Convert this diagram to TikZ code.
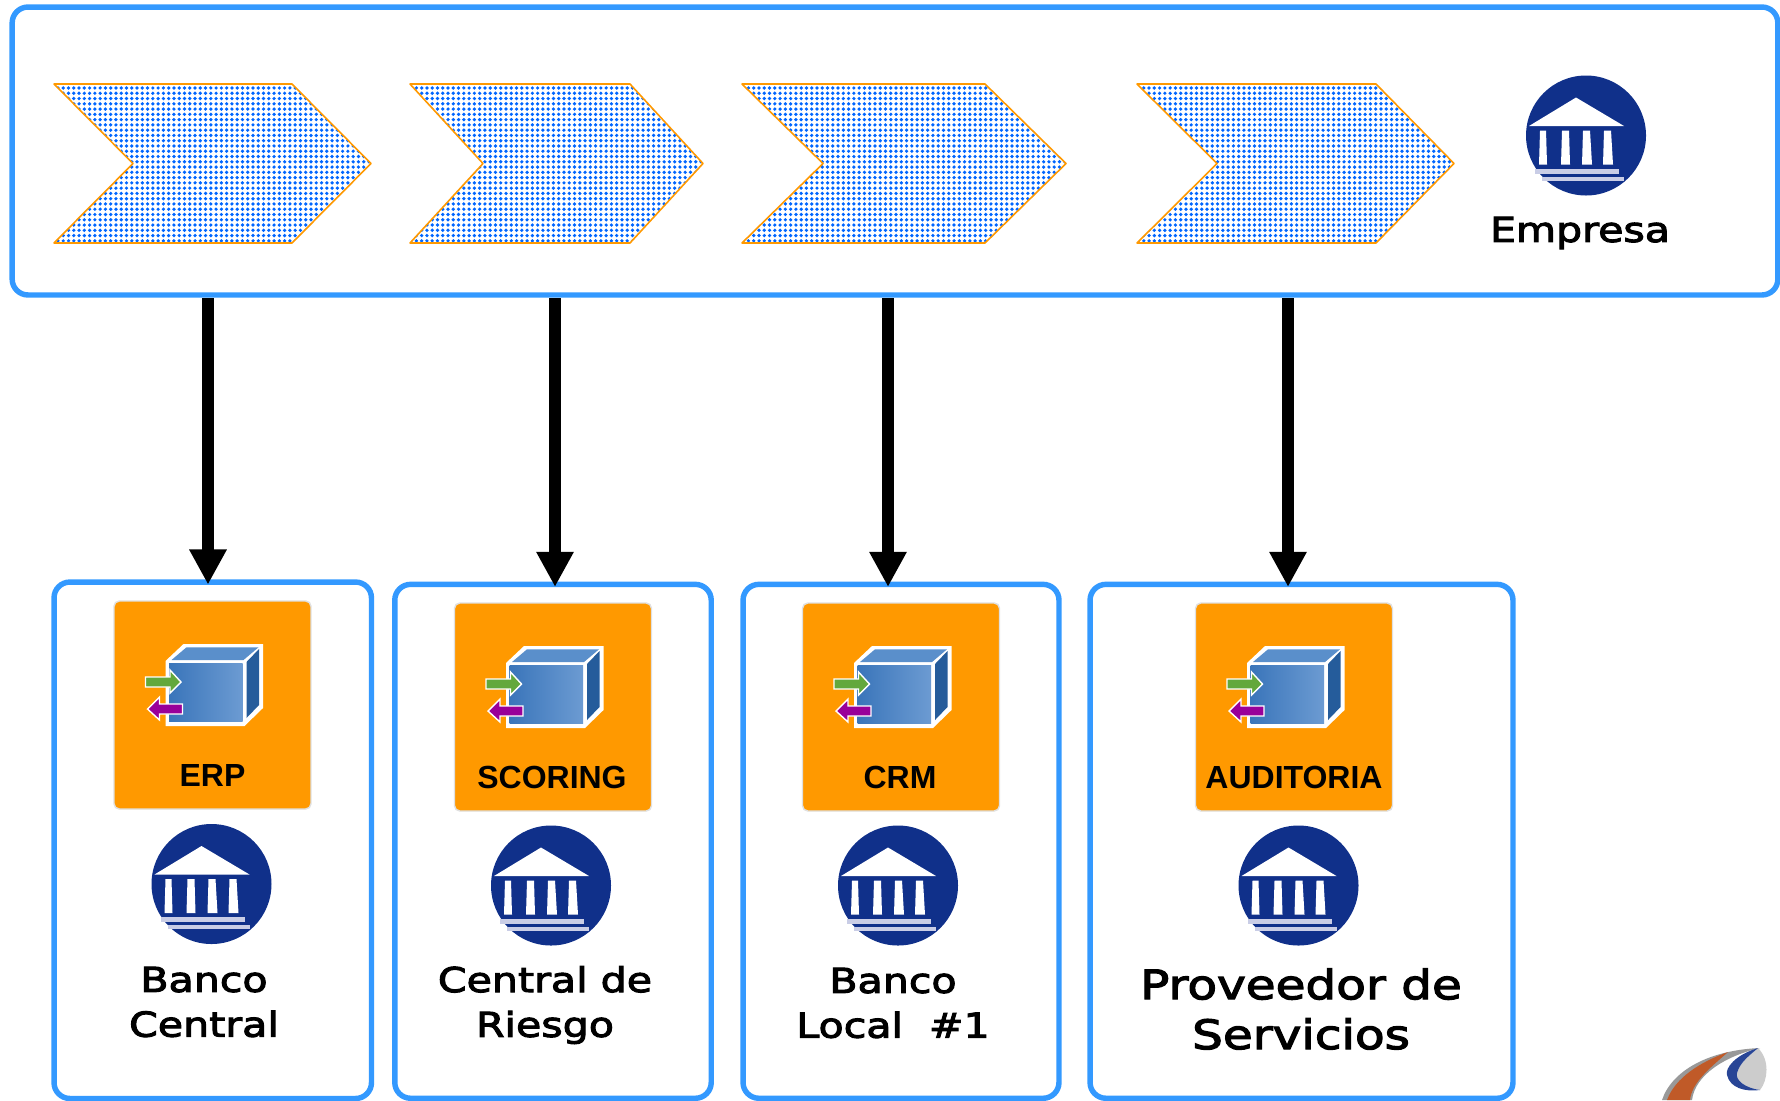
\documentclass[tikz,border=0pt]{standalone}
\usepackage{fontspec}
\setmainfont{Liberation Sans}
\newfontfamily\rotulofont[FakeStretch=1.2,FakeBold=3]{DejaVu Sans}
\usetikzlibrary{arrows.meta,patterns.meta}
\definecolor{azulcaja}{HTML}{3399FF}
\definecolor{azulpunto}{HTML}{0066FF}
\definecolor{naranja}{HTML}{FF9900}
\definecolor{azulbanco}{HTML}{10308A}
\definecolor{lavanda}{HTML}{C9CDE6}
\definecolor{verdecubo}{HTML}{63A83C}
\definecolor{moradocubo}{HTML}{990099}
\definecolor{cuboizq}{HTML}{3A75BA}
\definecolor{cuboder}{HTML}{6C9BD2}
\definecolor{cubotapa}{HTML}{5A8FCB}
\definecolor{cubolado}{HTML}{255C9B}
\definecolor{logonaranja}{HTML}{C05A28}
\tikzset{
  cajaempresa/.style={draw=azulcaja,line width=3.1pt,rounded corners=9pt,fill=white},
  cajabanco/.style={draw=azulcaja,line width=3.1pt,rounded corners=9pt,fill=white},
  baldosa/.style={draw=black!12,line width=0.8pt,fill=naranja,rounded corners=3pt,minimum width=3.94cm,minimum height=4.16cm},
  flechon/.style={draw=naranja,line width=0.9pt,line join=round,pattern={Dots[distance=3pt,radius=1.05pt]},pattern color=azulpunto},
  flecha/.style={line width=6.4pt,shorten >=-3pt,-{Triangle[width=20pt,length=20pt]}},
  nombre/.style={font=\rotulofont\fontsize{19.5}{25.5}\selectfont,align=center},
  nombreg/.style={font=\rotulofont\fontsize{23}{28.4}\selectfont,align=center},
  sistema/.style={font=\bfseries\fontsize{18.2}{20}\selectfont},
  banco/.pic={
    \fill[azulbanco] (0,0) circle (60);
    \fill[white] (-10,-38) -- (38,-9.5) -- (-57,-9.5) -- cycle;
    \fill[white] (-46,-5) -- (-40,-5) -- (-39,29) -- (-47,29) -- cycle;
    \fill[white] (-24,-5) -- (-17,-5) -- (-16,29) -- (-25,29) -- cycle;
    \fill[white] (-3,-5) -- (4,-5) -- (6,29) -- (-4,29) -- cycle;
    \fill[white] (18,-5) -- (25,-5) -- (27,29) -- (17,29) -- cycle;
    \fill[lavanda] (-51,33) rectangle (33,38);
    \fill[lavanda] (-44,41) rectangle (38,45);
  },
  cubo/.pic={
    \fill[white] (-47,-44) -- (-29,-61) -- (50.5,-61) -- (50.5,3) -- (32,21) -- (-47,21) -- cycle;
    \fill[cubotapa] (-41,-45) -- (-26,-57.7) -- (46,-57.7) -- (31,-45) -- cycle;
    \fill[cubolado] (34,-43) -- (46.5,-56) -- (46.5,0) -- (34,13) -- cycle;
    \shade[left color=cuboizq,right color=cuboder] (-43.5,-41.7) rectangle (30,16.7);
    \draw[white,line width=0.8pt,fill=verdecubo] (-67,-28) -- (-42.5,-28) -- (-42.5,-35) -- (-31.5,-23) -- (-42.5,-12) -- (-42.5,-18) -- (-67,-18) -- cycle;
    \draw[white,line width=0.8pt,fill=moradocubo] (-65,4) -- (-53,-8) -- (-53,-1) -- (-30,-1) -- (-30,9) -- (-53,9) -- (-53,15) -- cycle;
  },
}
\begin{document}
\begin{tikzpicture}[x=0.02cm,y=-0.02cm]
  \useasboundingbox (0,0) rectangle (1780,1100);
  \node[cajaempresa,minimum width=35.32cm,minimum height=5.76cm] (empresa) at (895,151) {};
  % flechones
  \draw[flechon] (54,84) -- (292,84) -- (371,163.5) -- (292,243) -- (54,243) -- (133,163.5) -- cycle;
  \draw[flechon] (410,84) -- (630,84) -- (703,163.5) -- (630,243) -- (410,243) -- (483,163.5) -- cycle;
  \draw[flechon] (742,84) -- (985,84) -- (1066,163.5) -- (985,243) -- (742,243) -- (823,163.5) -- cycle;
  \draw[flechon] (1137,84) -- (1376,84) -- (1454,163.5) -- (1376,243) -- (1137,243) -- (1217,163.5) -- cycle;
  \pic at (1586,135.5) {banco};
  \node[nombre] (nempresa) at (1580,233) {Empresa};
  % cajas de abajo
  \node[cajabanco,minimum width=6.35cm,minimum height=10.33cm] (caja1) at (212.75,840.25) {};
  \node[cajabanco,minimum width=6.33cm,minimum height=10.28cm] (caja2) at (553,841.3) {};
  \node[cajabanco,minimum width=6.32cm,minimum height=10.28cm] (caja3) at (901,841.3) {};
  \node[cajabanco,minimum width=8.46cm,minimum height=10.28cm] (caja4) at (1301.5,841.3) {};
  \node[baldosa] (erp) at (212.5,705) {};
  \node[baldosa] (scoring) at (553,707) {};
  \node[baldosa] (crm) at (901,707) {};
  \node[baldosa] (auditoria) at (1294,707) {};
  \pic at (212.5,705) {cubo};
  \pic at (553,707) {cubo};
  \pic at (901,707) {cubo};
  \pic at (1294,707) {cubo};
  \node[sistema] (terp) at (212.5,775) {ERP};
  \node[sistema] (tscoring) at (552,777) {SCORING};
  \node[sistema] (tcrm) at (900,777) {CRM};
  \node[sistema] (tauditoria) at (1294,777) {AUDITORIA};
  \pic at (211.5,884) {banco};
  \pic at (551,885.5) {banco};
  \pic at (898,885.5) {banco};
  \pic at (1298.5,885.5) {banco};
  \node[nombre] (ncentral) at (204,1002) {Banco\\Central};
  \node[nombre] (nriesgo) at (545,1005) {Central de\\Riesgo};
  \node[nombre] (nlocal) at (893,1003) {Banco\\Local~~\#1};
  \node[nombreg] (nproveedor) at (1301,1009) {Proveedor de\\Servicios};
  % flechas
  \coordinate (sal1) at (208,298);
  \coordinate (sal2) at (555,298);
  \coordinate (sal3) at (888,298);
  \coordinate (sal4) at (1288,298);
  \begin{scope}[flecha]
    \draw (sal1) -- (sal1 |- caja1.north);
    \draw (sal2) -- (sal2 |- caja2.north);
    \draw (sal3) -- (sal3 |- caja3.north);
    \draw (sal4) -- (sal4 |- caja4.north);
  \end{scope}
  % logo
  \fill[black!40] (1662,1100) .. controls (1672,1070) and (1710,1050) .. (1760,1048) .. controls (1725,1056) and (1695,1075) .. (1692,1100) -- cycle;
  \fill[logonaranja] (1667,1100) .. controls (1675,1078) and (1700,1062) .. (1728,1052) .. controls (1710,1068) and (1692,1082) .. (1690,1100) -- cycle;
  \fill[black!20] (1758,1048) .. controls (1770,1060) and (1768,1080) .. (1760,1090) .. controls (1745,1088) and (1735,1080) .. (1737,1073) .. controls (1740,1062) and (1750,1055) .. (1758,1048) -- cycle;
  \fill[azulbanco!90!white] (1758,1048) .. controls (1735,1055) and (1725,1068) .. (1727,1075) .. controls (1730,1088) and (1745,1092) .. (1760,1090) .. controls (1745,1088) and (1735,1080) .. (1737,1073) .. controls (1740,1062) and (1750,1055) .. (1758,1048) -- cycle;
\end{tikzpicture}
\end{document}
